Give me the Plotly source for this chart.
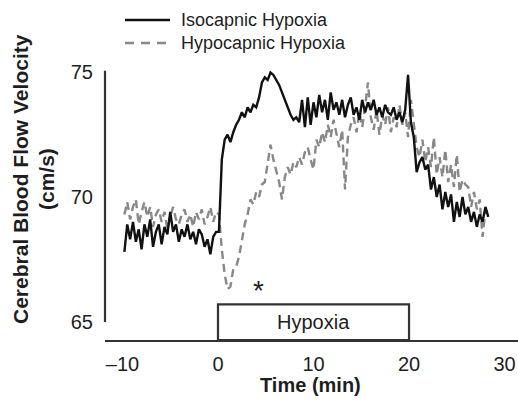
import plotly.graph_objects as go

# ---------------- data ----------------
t_start = -9.8      # first sample time (min)
t_step = 0.3        # sample spacing (min)

iso_hypoxia = [
    # baseline  -9.8 .. -0.2
    67.8, 68.9, 68.3, 69.0, 68.2, 68.7, 67.9, 68.9, 68.4, 69.1,
    68.0, 68.6, 68.9, 68.1, 68.8, 68.5, 69.4, 68.6, 68.9, 68.2,
    68.7, 68.4, 68.9, 68.3, 68.6, 68.1, 68.7, 68.5, 68.0, 68.3,
    67.7, 68.4, 68.6,
    # 0.1 .. 9.7
    68.6, 71.5, 72.3, 72.5, 72.2, 72.6, 72.9, 73.1, 73.4, 73.2,
    73.6, 73.4, 73.7, 73.6, 74.0, 74.6, 74.8, 74.7, 75.0, 74.9,
    74.7, 74.5, 74.2, 73.9, 73.6, 73.3, 73.1, 73.2, 73.0, 73.9,
    72.8, 74.0, 72.9,
    # 10.0 .. 19.6
    73.8, 73.2, 74.1, 73.4, 73.9, 73.1, 74.2, 73.5, 73.8, 73.3,
    73.9, 73.2, 73.7, 74.0, 73.3, 73.6, 73.1, 73.9, 73.4, 73.8,
    73.5, 73.9, 73.3, 73.6, 73.2, 73.7, 73.4, 73.3, 73.6, 73.1,
    73.4, 73.0, 73.5,
    # 19.9 .. 28.3
    74.9, 73.0, 72.4, 71.0, 71.4, 71.6, 71.1, 71.3, 70.3, 70.8,
    70.0, 70.5, 69.5, 70.2, 69.6, 70.1, 69.0, 69.8, 69.2, 70.0,
    69.3, 69.6, 69.0, 69.4, 68.8, 69.3, 69.0, 69.6, 69.2,
]

hypo_hypoxia = [
    # baseline  -9.8 .. -0.2
    69.3, 69.8, 69.1, 69.6, 69.9, 68.9, 69.4, 69.8, 69.2, 69.6,
    68.8, 69.3, 69.5, 69.0, 69.4, 68.7, 69.2, 69.6, 69.1, 68.9,
    69.3, 69.5, 69.0, 69.3, 68.8, 69.4, 69.1, 69.5, 68.9, 69.2,
    69.6, 69.0, 69.4,
    # 0.1 .. 9.7
    69.3, 67.9, 66.9, 66.3, 66.4, 67.1, 67.2, 67.6, 68.3, 68.9,
    69.3, 69.9, 69.7, 70.2, 70.0, 70.5, 70.6, 71.3, 72.1, 71.5,
    71.0, 70.6, 69.9, 70.8, 71.2, 70.9, 71.4, 71.2, 71.6, 71.3,
    71.8, 72.0, 71.5,
    # 10.0 .. 19.6
    71.1, 72.3, 72.0, 72.6, 72.2, 72.9, 72.4, 73.1, 72.5, 72.0,
    72.7, 70.3, 72.4, 72.9, 73.2, 72.6, 73.4, 72.8, 73.6, 74.6,
    73.2, 72.7, 73.5, 72.5, 73.3, 72.9, 73.6, 72.6, 73.2, 72.8,
    73.7, 72.9, 73.4,
    # 19.9 .. 28.3
    72.4, 73.9, 73.0, 72.0, 71.6, 72.3, 71.4, 72.0, 71.2, 72.4,
    70.9, 71.6, 70.8, 71.9, 70.6, 71.3, 70.4, 71.7, 70.2, 70.7,
    70.5, 70.4, 69.6, 70.2, 69.5, 69.9, 68.4, 69.5, 69.3,
]

assert len(iso_hypoxia) == len(hypo_hypoxia) == 128

x_ticks = [-10, 0, 10, 20, 30]
x_tick_labels = ["\u201310", "0", "10", "20", "30"]
y_ticks = [65, 70, 75]
y_tick_labels = ["65", "70", "75"]

hypoxia_start, hypoxia_end = 0, 20
series_names = ["Isocapnic Hypoxia", "Hypocapnic Hypoxia"]

time = [round(t_start + t_step * i, 2) for i in range(len(iso_hypoxia))]

# ---------------- styling ----------------
FONT = "Liberation Sans, Arial, sans-serif"
INK = "#1e1e1e"
BLACK = "#111111"
GRAY = "#888888"

X_RANGE = [-11.83, 31.41]
Y_RANGE = [64.257, 75.50]

fig = go.Figure()
fig.add_trace(go.Scatter(x=time, y=hypo_hypoxia, mode="lines", name=series_names[1],
                         line=dict(color=GRAY, width=2.4, dash="8px,5px"),
                         showlegend=False))
fig.add_trace(go.Scatter(x=time, y=iso_hypoxia, mode="lines", name=series_names[0],
                         line=dict(color=BLACK, width=2.4),
                         showlegend=False))

# y spine (only from 65 to 75)
fig.add_shape(type="line", xref="paper", yref="y", x0=0, x1=0,
              y0=y_ticks[0] - 0.02, y1=y_ticks[-1] + 0.07,
              line=dict(color="#333333", width=2.2))
# hypoxia box
fig.add_shape(type="rect", xref="x", yref="y", x0=hypoxia_start, x1=hypoxia_end,
              y0=Y_RANGE[0], y1=65.69, line=dict(color="#333333", width=2.2),
              fillcolor="rgba(0,0,0,0)")
fig.add_annotation(x=(hypoxia_start + hypoxia_end) / 2, y=65.0, xref="x", yref="y",
                   text="Hypoxia", showarrow=False, font=dict(family=FONT, size=20, color=INK))
fig.add_annotation(x=4.2, y=66.25, xref="x", yref="y", text="*", showarrow=False,
                   font=dict(family=FONT, size=28, color=INK))

# manual legend
H = 402 - 60 - 62
W = 518 - 105
def px_x(p):
    return (p - 105) / W
def px_y(p):
    return (340 - p) / H

fig.add_shape(type="line", xref="paper", yref="paper", x0=px_x(125), x1=px_x(170),
              y0=px_y(20), y1=px_y(20), line=dict(color=BLACK, width=2.4))
fig.add_shape(type="line", xref="paper", yref="paper", x0=px_x(125), x1=px_x(171),
              y0=px_y(43), y1=px_y(43), line=dict(color=GRAY, width=2.4, dash="9px,7px"))
fig.add_annotation(x=px_x(179), y=px_y(20), xref="paper", yref="paper", text=series_names[0],
                   xanchor="left", yanchor="middle", showarrow=False,
                   font=dict(family=FONT, size=18, color=INK))
fig.add_annotation(x=px_x(179), y=px_y(43), xref="paper", yref="paper", text=series_names[1],
                   xanchor="left", yanchor="middle", showarrow=False,
                   font=dict(family=FONT, size=18, color=INK))

# axis titles
fig.add_annotation(x=px_x(310), y=px_y(385), xref="paper", yref="paper", text="<b>Time (min)</b>",
                   showarrow=False, xanchor="center", yanchor="middle",
                   font=dict(family=FONT, size=20, color=INK))
fig.add_annotation(x=px_x(20), y=px_y(179), xref="paper", yref="paper",
                   text="<b>Cerebral Blood Flow Velocity</b>", textangle=-90,
                   showarrow=False, xanchor="center", yanchor="middle",
                   font=dict(family=FONT, size=21, color=INK))
fig.add_annotation(x=px_x(46), y=px_y(179), xref="paper", yref="paper",
                   text="<b>(cm/s)</b>", textangle=-90,
                   showarrow=False, xanchor="center", yanchor="middle",
                   font=dict(family=FONT, size=21, color=INK))

fig.update_layout(
    width=518, height=402,
    margin=dict(l=105, r=0, t=60, b=62),
    paper_bgcolor="white", plot_bgcolor="white",
    font=dict(family=FONT, size=20, color=INK),
    showlegend=False,
)
fig.update_xaxes(range=X_RANGE, tickvals=x_ticks, ticktext=x_tick_labels,
                 showgrid=False, zeroline=False, showline=True, linecolor="#333333",
                 linewidth=2.2, ticks="outside", ticklen=5, tickcolor="rgba(0,0,0,0)",
                 tickfont=dict(family=FONT, size=20, color=INK))
fig.update_yaxes(range=Y_RANGE, tickvals=y_ticks, ticktext=y_tick_labels,
                 showgrid=False, zeroline=False, showline=False,
                 ticks="outside", ticklen=7, tickcolor="rgba(0,0,0,0)",
                 tickfont=dict(family=FONT, size=20, color=INK))

fig.write_html("out.html")
